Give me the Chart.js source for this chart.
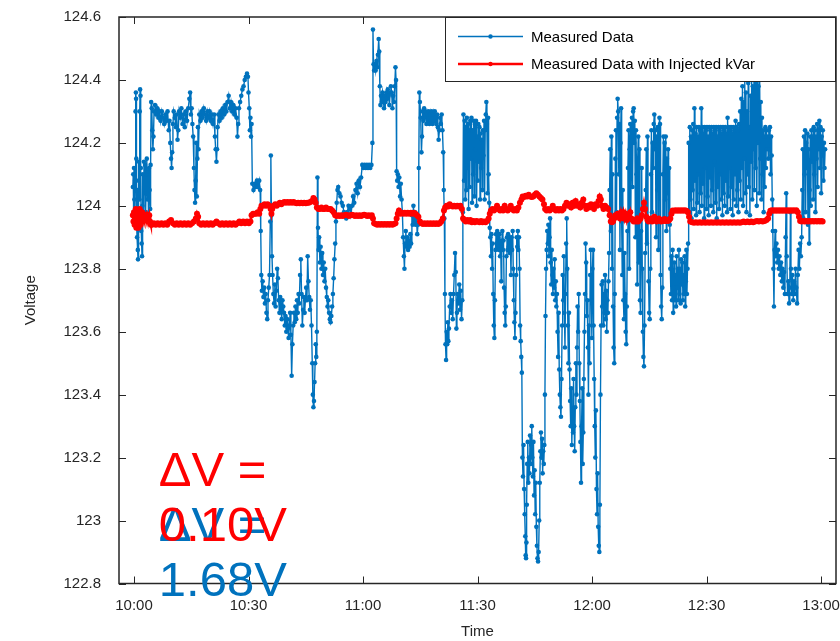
<!DOCTYPE html>
<html>
<head>
<meta charset="utf-8">
<title>Voltage</title>
<script src="https://cdn.jsdelivr.net/npm/chart.js@4.4.1/dist/chart.umd.min.js"></script>
<style>
  html, body { margin: 0; padding: 0; background: #fff; }
  #wrap { width: 840px; height: 641px; }
</style>
</head>
<body>
<div id="wrap"><canvas id="voltage-chart" width="840" height="641"></canvas></div>
<script>
// time axis is in minutes after 10:00
const tickMinutes = [0, 30, 60, 90, 120, 150, 180];
const tickLabels = ['10:00', '10:30', '11:00', '11:30', '12:00', '12:30', '13:00'];
const voltTicks = [122.8, 123, 123.2, 123.4, 123.6, 123.8, 124, 124.2, 124.4, 124.6];

const seriesLabels = ['Measured Data', 'Measured Data with Injected kVar'];
const seriesColors = ['#0072BD', '#FF0000'];

// [minute, volts]
const measuredData = [
  [-0.3,124.06],[-0.2,124.10],[-0.1,123.98],[0.0,124.12],[0.1,124.02],[0.2,123.95],[0.3,124.08],[0.4,124.30],[0.5,124.36],[0.55,124.34],
  [0.6,124.15],[0.7,123.96],[0.8,123.90],[0.9,124.05],[1.0,123.86],[1.05,123.83],[1.1,123.95],[1.2,124.08],[1.3,124.14],[1.4,124.02],
  [1.5,124.30],[1.6,124.37],[1.7,124.35],[1.8,124.12],[1.9,123.92],[2.0,123.88],[2.1,123.84],[2.2,124.00],[2.3,124.10],[2.45,123.97],
  [2.6,124.14],[2.75,124.04],[2.9,124.13],[3.05,123.98],[3.2,124.10],[3.35,124.15],[3.5,124.02],[3.65,124.11],[3.8,123.96],[3.95,124.12],
  [4.1,124.05],[4.25,123.99],[4.35,124.13],
  [4.5,124.33],[4.65,124.31],[4.8,124.24],[4.95,124.18],[5.1,124.22],[5.25,124.30],[5.5,124.32],[5.8,124.29],[6.1,124.31],[6.4,124.28],
  [6.7,124.30],[7.0,124.27],[7.3,124.30],[7.6,124.28],[7.9,124.26],[8.2,124.29],[8.5,124.27],[8.8,124.30],[9.1,124.24],[9.3,124.27],
  [9.5,124.20],[9.7,124.15],[9.85,124.12],[10.0,124.17],[10.2,124.26],[10.4,124.30],[10.7,124.28],[11.0,124.25],[11.2,124.29],[11.4,124.21],
  [11.6,124.24],[11.8,124.30],[12.1,124.28],[12.4,124.31],[12.7,124.26],[13.0,124.29],[13.3,124.25],[13.6,124.30],[13.9,124.27],[14.2,124.31],
  [14.5,124.34],[14.7,124.36],[14.9,124.29],[15.1,124.31],[15.3,124.26],[15.5,124.22],[15.7,124.12],[15.85,124.05],[16.0,124.01],[16.15,124.08],
  [16.3,124.20],[16.45,124.03],[16.6,124.15],[16.75,124.25],[16.9,124.18],[17.1,124.29],[17.4,124.27],[17.7,124.30],[18.0,124.28],[18.3,124.31],
  [18.6,124.29],[18.9,124.27],[19.2,124.30],[19.5,124.28],[19.8,124.30],[20.1,124.27],[20.4,124.29],[20.7,124.26],[21.0,124.29],[21.2,124.22],
  [21.4,124.18],[21.6,124.14],[21.75,124.18],[21.9,124.25],[22.1,124.29],[22.4,124.27],[22.7,124.30],[23.0,124.28],[23.3,124.31],[23.6,124.29],
  [23.9,124.32],[24.2,124.30],[24.5,124.33],[24.8,124.35],[25.1,124.31],[25.4,124.33],[25.7,124.30],[26.0,124.32],[26.3,124.29],[26.6,124.31],
  [26.9,124.28],[27.1,124.22],[27.3,124.26],[27.5,124.31],[27.8,124.33],[28.1,124.35],[28.4,124.37],[28.7,124.38],[29.0,124.40],[29.3,124.41],
  [29.6,124.42],[29.85,124.41],[30.0,124.36],[30.2,124.31],[30.35,124.24],[30.5,124.28],[30.65,124.22],[30.8,124.26],
  [31.0,124.07],[31.3,124.05],[31.6,124.07],[31.9,124.06],[32.2,124.08],[32.5,124.06],[32.8,124.08],[33.05,124.05],
  [33.2,123.92],[33.35,123.78],[33.5,123.73],[33.7,123.76],[33.9,123.71],[34.1,123.74],[34.3,123.69],[34.5,123.72],[34.7,123.66],[34.9,123.64],
  [35.1,123.70],[35.3,123.74],[35.5,123.78],[35.7,123.95],[35.85,124.16],[36.0,123.97],[36.15,123.84],[36.3,123.78],[36.5,123.72],[36.7,123.69],
  [36.9,123.75],[37.1,123.68],[37.3,123.73],[37.5,123.80],[37.7,123.77],[37.9,123.70],[38.1,123.66],[38.3,123.71],[38.5,123.67],[38.7,123.64],
  [38.9,123.70],[39.1,123.68],[39.3,123.66],[39.5,123.62],[39.7,123.65],[39.9,123.60],[40.1,123.64],[40.3,123.61],[40.5,123.58],[40.7,123.62],
  [40.9,123.66],[41.1,123.59],[41.3,123.46],[41.5,123.56],[41.7,123.62],[41.9,123.66],[42.1,123.63],[42.3,123.68],[42.5,123.64],[42.7,123.70],
  [42.9,123.66],[43.1,123.72],[43.3,123.69],[43.5,123.78],[43.7,123.83],[43.9,123.72],[44.1,123.62],[44.3,123.67],[44.5,123.71],[44.7,123.66],
  [44.9,123.70],[45.1,123.74],[45.3,123.70],[45.5,123.84],[45.7,123.76],[45.9,123.71],[46.1,123.67],[46.3,123.70],[46.5,123.62],[46.7,123.50],
  [46.85,123.40],[47.0,123.36],[47.15,123.38],[47.3,123.44],[47.45,123.50],[47.6,123.56],[47.75,123.52],[47.9,123.60],[48.05,124.09],[48.2,123.93],
  [48.35,123.86],[48.5,123.90],[48.7,123.82],[48.9,123.87],[49.1,123.80],[49.3,123.85],[49.5,123.78],[49.7,123.82],[49.9,123.76],[50.1,123.80],
  [50.3,123.74],[50.5,123.71],[50.7,123.68],[50.9,123.70],[51.1,123.66],[51.3,123.64],[51.5,123.63],[51.7,123.65],[51.9,123.68],[52.1,123.72],
  [52.3,123.77],[52.5,123.83],[52.7,123.88],[52.9,123.95],[53.1,124.01],[53.3,124.05],[53.5,124.06],[53.8,124.04],[54.1,124.03],[54.4,124.01],
  [54.7,124.00],[55.0,123.98],[55.3,123.97],[55.6,123.96],[55.9,123.98],[56.2,124.00],[56.5,123.99],[56.8,123.97],
  [57.1,124.00],[57.4,124.03],[57.7,124.01],[58.0,124.05],[58.3,124.07],[58.6,124.04],[58.9,124.08],[59.2,124.06],[59.5,124.09],[59.8,124.13],
  [60.1,124.12],[60.4,124.13],[60.7,124.12],[61.0,124.13],[61.3,124.12],[61.6,124.13],[61.9,124.12],[62.2,124.13],[62.45,124.20],[62.6,124.56],
  [62.75,124.45],[62.9,124.43],[63.1,124.45],[63.3,124.43],[63.5,124.46],[63.7,124.44],[63.9,124.48],[64.1,124.53],[64.25,124.49],[64.4,124.38],
  [64.55,124.32],[64.7,124.35],[64.9,124.33],[65.1,124.36],[65.3,124.34],[65.5,124.31],[65.7,124.35],[65.9,124.33],[66.1,124.36],[66.3,124.34],
  [66.5,124.37],[66.7,124.35],[66.9,124.32],[67.1,124.36],[67.3,124.38],[67.5,124.36],[67.7,124.31],[67.9,124.35],[68.1,124.33],[68.3,124.38],
  [68.5,124.44],[68.65,124.40],[68.8,124.11],[68.95,124.08],[69.1,124.10],[69.3,124.06],[69.5,124.09],[69.7,124.03],[69.9,124.07],[70.1,124.02],
  [70.3,123.98],[70.5,123.90],[70.7,123.84],[70.85,123.80],[71.0,123.88],[71.2,123.92],[71.4,123.87],[71.6,123.90],[71.8,123.86],[72.0,123.89],
  [72.2,123.87],[72.4,123.91],[72.6,123.88],[72.8,123.97],[73.0,123.94],[73.2,124.00],[73.4,123.95],[73.6,123.98],[73.8,123.94],[74.0,123.96],
  [74.2,123.91],[74.4,123.94],[74.6,124.12],[74.75,124.36],[74.9,124.33],[75.1,124.28],[75.3,124.17],[75.45,124.22],[75.6,124.30],[75.8,124.27],
  [76.0,124.31],[76.2,124.28],[76.4,124.30],[76.6,124.26],[76.8,124.29],[77.0,124.27],[77.2,124.30],[77.4,124.26],[77.6,124.29],[77.8,124.27],
  [78.0,124.30],[78.2,124.26],[78.4,124.29],[78.6,124.27],[78.8,124.30],[79.0,124.28],[79.2,124.26],[79.4,124.29],[79.6,124.25],[79.8,124.21],
  [80.0,124.24],[80.2,124.28],[80.4,124.26],[80.6,124.29],[80.8,124.24],[81.0,124.17],[81.15,124.05],[81.3,123.96],[81.45,123.72],[81.6,123.56],
  [81.75,123.51],[81.9,123.60],[82.05,123.56],[82.2,123.63],[82.35,123.57],[82.5,123.61],[82.7,123.68],[82.9,123.72],[83.1,123.66],[83.3,123.70],
  [83.5,123.64],[83.7,123.72],[83.9,123.78],[84.1,123.85],[84.3,123.79],[84.45,123.61],[84.6,123.66],[84.8,123.72],[85.0,123.69],[85.2,123.75],
  [85.4,123.67],[85.6,123.73],[85.8,123.64],[86.0,123.70],[86.15,123.98],[86.3,124.29],
  [86.45,124.08],[86.6,124.27],[86.75,124.02],[86.9,124.25],[87.05,124.05],[87.2,124.28],[87.35,124.12],[87.5,124.26],[87.65,123.99],[87.8,124.24],
  [87.95,124.06],[88.1,124.27],[88.25,124.15],[88.4,124.28],[88.55,124.01],[88.7,124.24],[88.85,124.10],[89.0,124.27],[89.15,124.03],[89.3,124.26],
  [89.45,124.18],[89.6,124.27],[89.75,124.00],[89.9,124.22],[90.05,124.08],[90.2,124.26],[90.35,124.14],[90.5,124.25],[90.65,124.02],[90.8,124.23],
  [90.95,124.12],[91.1,124.21],[91.25,124.05],[91.4,124.24],[91.55,124.16],[91.7,124.27],[91.85,124.02],[92.0,124.24],[92.15,124.29],[92.3,124.33],
  [92.45,124.26],[92.6,124.04],[92.75,124.28],[92.9,124.10],[93.05,124.01],[93.2,123.93],
  [93.35,123.90],[93.5,123.84],[93.65,123.91],[93.8,123.80],[93.95,123.88],[94.1,123.72],[94.25,123.62],[94.4,123.58],[94.55,123.70],[94.7,123.86],
  [94.85,123.91],[95.0,123.88],[95.15,123.92],[95.3,123.87],[95.45,123.90],[95.6,123.86],[95.75,123.91],[95.9,123.84],[96.05,123.89],[96.2,123.76],
  [96.35,123.88],[96.5,123.92],[96.65,123.86],[96.8,123.89],[96.95,123.74],[97.1,123.66],[97.25,123.62],[97.4,123.68],[97.55,123.84],[97.7,123.90],
  [97.85,123.86],[98.0,123.91],[98.15,123.87],[98.3,123.90],[98.45,123.85],[98.6,123.89],[98.75,123.78],[98.9,123.90],[99.05,123.86],[99.2,123.92],
  [99.35,123.80],[99.5,123.70],[99.65,123.63],[99.8,123.58],[99.95,123.66],[100.1,123.78],[100.25,123.90],[100.4,123.87],[100.55,123.92],[100.7,123.86],
  [100.85,123.90],[101.0,123.80],[101.15,123.62],[101.3,123.57],[101.45,123.52],[101.6,123.47],
  [101.75,123.20],[101.9,123.14],[102.05,123.24],[102.2,123.10],[102.35,123.02],[102.5,122.95],[102.6,122.89],[102.7,122.88],[102.8,122.93],[102.9,123.05],
  [103.0,123.18],[103.15,123.25],[103.3,123.12],[103.45,123.20],[103.6,123.15],[103.75,123.27],[103.9,123.18],[104.05,123.24],[104.2,123.30],[104.35,123.20],
  [104.5,123.14],[104.65,123.25],[104.8,123.08],[104.95,123.16],[105.1,123.02],[105.25,123.12],[105.4,122.98],[105.55,122.92],[105.7,122.88],[105.85,122.87],
  [106.0,122.90],[106.15,123.00],[106.3,123.12],[106.45,123.22],[106.6,123.28],[106.75,123.20],[106.9,123.26],[107.05,123.15],[107.2,123.22],[107.35,123.18],
  [107.5,123.24],[107.65,123.40],[107.8,123.65],[107.95,123.80],[108.1,123.86],[108.25,123.92],
  [108.4,123.88],[108.55,123.94],[108.7,123.84],[108.85,123.90],[109.0,123.96],[109.15,123.82],[109.3,123.75],[109.45,123.86],[109.6,123.78],[109.75,123.72],
  [109.9,123.80],[110.05,123.74],[110.2,123.83],[110.35,123.70],[110.5,123.76],[110.65,123.68],[110.8,123.72],[110.95,123.60],[111.1,123.52],[111.25,123.66],
  [111.4,123.48],[111.55,123.40],[111.7,123.36],[111.85,123.33],[112.0,123.45],[112.15,123.62],[112.3,123.78],[112.45,123.70],[112.6,123.84],[112.75,123.66],
  [112.9,123.55],[113.05,123.72],[113.2,123.88],[113.35,123.96],[113.5,123.80],[113.65,123.62],[113.8,123.50],[113.95,123.66],[114.1,123.48],[114.25,123.38],
  [114.4,123.30],[114.55,123.42],[114.7,123.24],[114.85,123.35],[115.0,123.28],[115.15,123.45],[115.3,123.30],[115.45,123.22],[115.6,123.36],[115.75,123.50],
  [115.9,123.40],[116.05,123.55],[116.2,123.68],[116.35,123.60],[116.5,123.72],[116.65,123.50],[116.8,123.38],[116.95,123.25],[117.1,123.12],[117.25,123.30],
  [117.4,123.42],[117.55,123.18],[117.7,123.28],[117.85,123.45],[118.0,123.60],[118.15,123.72],[118.3,123.88],[118.45,123.82],[118.6,123.65],[118.75,123.70],
  [118.9,123.55],[119.05,123.40],[119.2,123.62],[119.35,123.50],[119.5,123.78],[119.65,123.86],
  [119.8,123.70],[119.95,123.58],[120.1,123.80],[120.25,123.86],[120.4,123.62],[120.55,123.45],[120.7,123.30],[120.85,123.20],[121.0,123.35],[121.15,123.10],
  [121.3,123.02],[121.45,123.15],[121.6,122.98],[121.75,122.92],[121.9,122.90],[122.05,123.05],[122.2,123.40],[122.35,123.62],[122.5,123.75],
  [122.65,123.68],[122.8,123.76],[122.95,123.62],[123.1,123.72],[123.25,123.66],[123.4,123.78],[123.55,123.64],[123.7,123.73],[123.85,123.60],[124.0,123.70],
  [124.15,123.66],[124.3,123.76],[124.45,123.85],
  [124.6,124.05],[124.75,124.18],[124.9,123.92],[125.05,124.22],[125.2,123.80],[125.35,124.10],[125.5,123.68],[125.65,123.55],[125.8,123.50],[125.95,123.72],
  [126.1,124.15],[126.25,124.24],[126.4,123.98],[126.55,124.28],[126.7,124.34],[126.85,124.30],[127.0,124.10],[127.15,124.26],[127.3,123.86],[127.45,124.20],
  [127.6,124.31],[127.75,123.95],[127.9,123.78],[128.05,124.05],[128.2,123.70],[128.35,123.64],[128.5,123.85],[128.65,123.72],[128.8,123.60],[128.95,123.56],
  [129.1,123.68],[129.25,123.92],
  [129.4,124.12],[129.55,124.24],[129.7,123.80],[129.85,124.18],[130.0,124.26],[130.15,123.98],[130.3,124.22],[130.45,124.28],[130.6,124.06],[130.75,124.30],
  [130.9,124.31],[131.05,124.20],[131.2,124.27],[131.35,123.90],[131.5,124.24],[131.65,124.10],[131.8,123.75],[131.95,124.15],[132.1,124.22],[132.25,123.82],
  [132.4,124.18],[132.55,123.70],[132.7,123.66],[132.85,123.92],[133.0,124.12],[133.15,123.80],[133.3,123.60],[133.45,123.52],[133.6,123.49],[133.75,123.62],
  [133.9,123.85],
  [134.05,124.05],[134.2,124.18],[134.35,123.88],[134.5,124.22],[134.65,123.95],[134.8,123.76],[134.95,123.66],[135.1,123.64],[135.25,123.80],[135.4,124.10],
  [135.55,124.24],[135.7,123.98],[135.85,124.20],[136.0,124.12],[136.15,124.26],[136.3,124.29],[136.45,124.18],[136.6,124.24],[136.75,123.90],[136.9,124.22],
  [137.05,124.05],[137.2,124.25],[137.35,123.86],[137.5,124.20],[137.65,124.28],[137.8,124.26],[137.95,123.78],[138.1,123.68],[138.25,123.64],[138.4,123.74],
  [138.55,124.10],[138.7,124.22],[138.85,123.96],[139.0,124.20],[139.15,124.02],[139.3,124.22],[139.45,123.92],[139.6,124.15],[139.75,124.04],[139.9,124.18],
  [140.05,123.96],[140.2,124.12],[140.35,123.94],
  [140.5,123.80],[140.65,123.72],[140.8,123.84],[140.95,123.70],[141.1,123.86],[141.25,123.66],[141.4,123.74],[141.55,123.82],[141.7,123.70],[141.85,123.78],
  [142.0,123.68],[142.15,123.84],[142.3,123.74],[142.45,123.80],[142.6,123.70],[142.75,123.86],[142.9,123.72],[143.05,123.80],[143.2,123.69],[143.35,123.83],
  [143.5,123.75],[143.65,123.82],[143.8,123.70],[143.95,123.78],[144.1,123.72],[144.25,123.84],[144.4,123.68],[144.55,123.76],[144.7,123.86],[144.85,123.72],
  [145.0,123.80],[145.15,123.88],
  [145.3,124.20],[145.45,123.98],[145.6,124.25],[145.75,124.02],[145.9,124.22],[146.05,123.96],[146.2,124.24],[146.35,124.05],[146.5,124.26],[146.65,123.99],
  [146.8,124.31],[146.95,124.08],[147.1,124.23],[147.25,123.97],[147.4,124.25],[147.55,124.01],[147.7,124.22],[147.85,124.10],[148.0,124.25],[148.15,123.98],
  [148.3,124.24],[148.45,124.04],[148.6,124.31],[148.75,124.00],[148.9,124.25],[149.05,124.07],[149.2,124.23],[149.35,123.96],[149.5,124.25],[149.65,124.12],
  [149.8,124.24],[149.95,123.99],[150.1,124.25],[150.25,124.03],[150.4,124.22],[150.55,123.97],[150.7,124.25],[150.85,124.09],[151.0,124.24],[151.15,124.00],
  [151.3,124.25],[151.45,124.05],[151.6,124.23],[151.75,123.98],[151.9,124.25],[152.05,124.14],[152.2,124.24],[152.35,124.01],[152.5,124.25],[152.65,123.96],
  [152.8,124.22],[152.95,124.06],[153.1,124.25],[153.25,123.99],[153.4,124.24],[153.55,124.10],[153.7,124.25],[153.85,124.02],[154.0,124.23],[154.15,123.97],
  [154.3,124.25],[154.45,124.04],[154.6,124.24],[154.75,124.00],[154.9,124.25],[155.05,124.08],[155.2,124.23],[155.35,123.98],[155.5,124.28],[155.65,124.03],
  [155.8,124.25],[155.95,124.12],[156.1,124.24],[156.25,123.99],[156.4,124.25],[156.55,124.06],[156.7,124.23],[156.85,123.97],[157.0,124.25],[157.15,124.02],
  [157.3,124.24],[157.45,124.10],[157.6,124.27],[157.75,124.00],[157.9,124.25],[158.05,124.05],[158.2,124.24],[158.35,123.98],[158.5,124.26],[158.65,124.08],
  [158.8,124.30],[158.95,124.02],[159.1,124.34],[159.25,124.12],[159.4,124.38],[159.55,124.00],[159.7,124.33],[159.85,124.15],[160.0,124.40],[160.15,124.04],
  [160.3,124.36],[160.45,123.98],[160.6,124.30],[160.75,124.10],[160.9,124.39],[161.05,124.06],[161.2,124.25],[161.35,123.97],[161.5,124.35],[161.65,124.14],
  [161.8,124.42],[161.95,124.02],[162.1,124.38],[162.25,124.18],[162.4,124.41],[162.55,124.05],[162.7,124.43],[162.85,124.12],[163.0,124.39],[163.15,124.00],
  [163.3,124.42],[163.45,124.20],[163.6,124.38],[163.75,124.04],[163.9,124.40],[164.05,124.15],[164.2,124.33],[164.35,124.02],[164.5,124.28],[164.65,124.10],
  [164.8,124.24],[164.95,123.98],[165.1,124.22],[165.25,124.06],[165.4,124.25],[165.55,124.12],[165.7,124.24],[165.85,124.18],
  [166.0,124.22],[166.15,124.15],[166.3,124.24],[166.45,124.18],[166.6,124.25],[166.75,124.10],[166.9,124.22],[167.05,124.16],[167.2,124.02],[167.35,123.92],
  [167.5,123.80],[167.65,123.68],[167.8,123.86],[167.95,123.92],[168.1,123.84],[168.3,123.88],[168.5,123.82],[168.7,123.86],[168.9,123.80],[169.1,123.84],
  [169.3,123.78],[169.5,123.82],[169.7,123.76],[169.9,123.80],[170.1,123.74],[170.3,123.79],[170.5,123.72],[170.7,123.90],[170.85,124.04],[171.0,123.84],
  [171.2,123.72],[171.4,123.76],[171.6,123.69],[171.8,123.74],[171.95,123.98],[172.1,123.80],[172.3,123.72],[172.5,123.78],[172.7,123.70],[172.9,123.76],
  [173.1,123.72],[173.3,123.80],[173.5,123.74],[173.7,123.69],[173.9,123.78],[174.1,123.86],[174.3,123.80],[174.5,123.88],[174.7,123.84],[174.9,123.90],
  [175.05,124.05],[175.2,124.18],[175.35,123.96],[175.5,124.22],[175.65,124.10],[175.8,124.24],[175.95,123.98],[176.1,124.20],[176.25,124.12],[176.4,124.23],
  [176.55,123.94],[176.7,124.18],[176.85,123.88],[177.0,124.05],[177.15,124.22],[177.3,124.00],[177.45,124.24],[177.6,124.14],[177.75,124.22],[177.9,124.02],
  [178.05,124.25],[178.2,124.10],[178.35,124.24],[178.5,123.98],[178.65,124.22],[178.8,124.15],[178.95,124.26],[179.1,124.06],[179.25,124.24],[179.4,124.18],
  [179.55,124.27],[179.7,124.12],[179.85,124.25],[180.0,124.04],[180.15,124.22],[180.3,124.16],[180.45,124.24],[180.6,124.08],[180.75,124.20],[180.9,124.12],
  [181.05,124.18]
];

// [minute, volts]
const injectedData = [
  [-0.3,123.97],[-0.15,123.95],[0,123.98],[0.15,123.94],[0.3,123.96],[0.45,123.99],[0.6,123.93],[0.75,123.97],[0.9,123.95],[1.05,123.98],
  [1.2,123.93],[1.35,123.96],[1.5,123.99],[1.65,123.94],[1.8,123.97],[1.95,123.95],[2.1,123.98],[2.25,123.96],[2.4,123.97],[2.6,123.96],
  [2.8,123.97],[3.0,123.96],[3.2,123.97],[3.4,123.96],[3.6,123.97],[3.8,123.96],[4.0,123.97],[4.2,123.95],[4.4,123.94],
  [4.7,123.94],[5.2,123.945],[5.7,123.94],[6.2,123.945],[6.7,123.94],[7.2,123.945],[7.7,123.94],[8.2,123.945],[8.7,123.94],[9.2,123.95],
  [9.7,123.955],[10.2,123.945],[10.7,123.94],[11.2,123.945],[11.7,123.94],[12.2,123.945],[12.7,123.94],[13.2,123.945],[13.7,123.94],[14.2,123.945],
  [14.7,123.94],[15.2,123.945],[15.7,123.95],[16.2,123.96],[16.5,123.975],[16.8,123.965],[17.1,123.945],[17.6,123.94],[18.1,123.945],[18.6,123.94],
  [19.1,123.945],[19.6,123.94],[20.1,123.945],[20.6,123.94],[21.1,123.945],[21.6,123.95],[22.1,123.945],[22.6,123.94],[23.1,123.945],[23.6,123.94],
  [24.1,123.945],[24.6,123.94],[25.1,123.945],[25.6,123.94],[26.1,123.945],[26.6,123.94],[27.1,123.945],[27.6,123.95],[28.1,123.945],[28.6,123.95],
  [29.1,123.945],[29.6,123.95],[30.1,123.945],[30.5,123.95],
  [30.8,123.97],[31.2,123.975],[31.6,123.975],[32.0,123.975],[32.4,123.98],[32.8,123.975],
  [33.1,123.99],[33.4,124.0],[33.8,124.0],[34.2,124.005],[34.6,124.0],[35.0,124.005],[35.4,124.0],[35.8,123.99],[36.0,123.975],[36.2,123.99],
  [36.6,124.0],[37.0,124.005],[37.4,124.0],[37.8,124.005],[38.2,124.01],[38.6,124.005],[39.0,124.01],[39.4,124.012],[39.8,124.01],[40.2,124.012],
  [40.6,124.01],[41.0,124.012],[41.4,124.01],[41.8,124.012],[42.2,124.01],[42.6,124.008],[43.0,124.01],[43.4,124.008],[43.8,124.01],[44.2,124.008],
  [44.6,124.01],[45.0,124.008],[45.4,124.01],[45.8,124.01],[46.2,124.012],[46.6,124.015],[47.0,124.025],[47.3,124.02],[47.6,124.01],[47.9,123.995],
  [48.3,123.99],[48.7,123.99],[49.1,123.995],[49.5,123.99],[49.9,123.99],[50.3,123.995],[50.7,123.99],[51.1,123.99],[51.5,123.99],[51.9,123.985],
  [52.3,123.98],[52.7,123.97],
  [53.1,123.968],[53.5,123.97],[53.9,123.968],[54.3,123.97],[54.7,123.968],[55.1,123.97],[55.5,123.972],[55.9,123.97],[56.3,123.968],[56.7,123.97],
  [57.1,123.972],[57.5,123.97],[57.9,123.968],[58.3,123.97],[58.7,123.968],[59.1,123.97],[59.5,123.968],[59.9,123.97],[60.3,123.972],[60.7,123.97],
  [61.1,123.968],[61.5,123.97],[61.9,123.968],[62.3,123.97],[62.6,123.96],
  [62.9,123.945],[63.3,123.942],[63.7,123.94],[64.1,123.942],[64.5,123.94],[64.9,123.942],[65.3,123.94],[65.7,123.942],[66.1,123.94],[66.5,123.942],
  [66.9,123.94],[67.3,123.942],[67.7,123.94],[68.1,123.942],[68.5,123.945],
  [68.8,123.96],[69.1,123.975],[69.4,123.985],[69.7,123.975],[70.1,123.978],[70.5,123.975],[70.9,123.978],[71.3,123.975],[71.7,123.978],[72.1,123.975],
  [72.5,123.978],[72.9,123.975],[73.3,123.978],[73.7,123.975],[74.1,123.97],[74.5,123.965],
  [74.9,123.95],[75.3,123.945],[75.7,123.942],[76.1,123.945],[76.5,123.942],[76.9,123.945],[77.3,123.942],[77.7,123.945],[78.1,123.942],[78.5,123.945],
  [78.9,123.942],[79.3,123.945],[79.7,123.942],[80.1,123.945],[80.5,123.95],[80.9,123.96],
  [81.2,123.985],[81.5,123.995],[81.9,124.0],[82.3,123.998],[82.7,124.005],[83.1,124.0],[83.5,123.998],[83.9,124.0],[84.3,123.998],[84.7,124.0],
  [85.1,123.998],[85.5,124.0],[85.9,123.99],
  [86.2,123.96],[86.5,123.955],[86.9,123.95],[87.3,123.955],[87.7,123.95],[88.1,123.955],[88.5,123.948],[88.9,123.952],[89.3,123.948],[89.7,123.952],
  [90.1,123.95],[90.5,123.948],[90.9,123.952],[91.3,123.948],[91.7,123.95],[92.1,123.948],[92.5,123.952],[92.9,123.96],
  [93.2,123.975],[93.5,123.985],[93.9,123.99],[94.3,123.985],[94.7,123.99],[95.1,124.0],[95.5,123.99],[95.9,123.985],[96.3,123.99],[96.7,123.985],
  [97.1,124.0],[97.5,123.99],[97.9,123.985],[98.3,123.99],[98.7,124.0],[99.1,123.99],[99.5,123.985],[99.9,123.99],[100.3,123.985],[100.7,123.995],
  [101.1,124.01],
  [101.5,124.02],[101.8,124.03],[102.2,124.028],[102.6,124.032],[103.0,124.03],[103.4,124.035],[103.8,124.03],[104.2,124.028],[104.6,124.03],[105.0,124.035],
  [105.4,124.04],[105.8,124.035],[106.2,124.03],[106.6,124.025],[107.0,124.02],[107.4,124.005],
  [107.7,123.99],[108.1,123.985],[108.5,123.99],[108.9,123.985],[109.3,123.99],[109.7,124.0],[110.1,123.99],[110.5,123.985],[110.9,123.99],[111.3,123.985],
  [111.7,123.99],[112.1,123.985],
  [112.5,123.99],[112.9,124.0],[113.3,124.01],[113.7,124.0],[114.1,124.005],[114.5,123.995],[114.9,124.01],[115.3,124.0],[115.7,124.015],[116.1,124.0],
  [116.5,124.005],[116.9,123.995],[117.3,124.01],[117.7,124.02],[118.1,124.0],[118.5,123.99],[118.9,124.0],[119.3,123.995],
  [119.7,124.005],[120.1,124.0],[120.5,123.99],[120.9,124.005],[121.3,124.0],[121.7,124.015],[122.0,124.03],[122.3,124.02],[122.6,124.0],[123.0,123.99],
  [123.4,124.0],[123.8,123.995],[124.2,123.99],
  [124.6,123.97],[124.9,123.95],[125.2,123.948],[125.5,123.95],[125.8,123.96],[126.1,123.97],[126.4,123.965],[126.7,123.975],
  [127.0,123.97],[127.3,123.96],[127.6,123.98],[127.9,123.965],[128.2,123.98],[128.5,123.96],[128.8,123.975],[129.1,123.955],[129.4,123.97],[129.7,123.965],
  [130.0,123.98],[130.3,123.96],
  [130.6,123.955],[130.9,123.95],[131.2,123.955],[131.5,123.95],[131.8,123.96],[132.1,123.95],[132.4,123.955],[132.7,123.96],[133.0,123.97],[133.3,123.99],
  [133.6,124.01],[133.9,123.99],[134.2,123.965],[134.5,123.955],[134.8,123.95],
  [135.1,123.955],[135.4,123.96],[135.7,123.95],[136.0,123.955],[136.3,123.965],[136.6,123.955],[136.9,123.95],[137.2,123.955],[137.5,123.96],[137.8,123.955],
  [138.1,123.95],[138.4,123.955],[138.7,123.952],[139.0,123.958],[139.3,123.952],[139.6,123.955],[139.9,123.952],[140.2,123.955],[140.5,123.96],
  [140.8,123.975],[141.1,123.985],[141.5,123.984],[141.9,123.986],[142.3,123.984],[142.7,123.986],[143.1,123.984],[143.5,123.986],[143.9,123.984],[144.3,123.986],
  [144.7,123.984],[145.1,123.98],[145.4,123.965],
  [145.7,123.95],[146.2,123.948],[146.7,123.946],[147.2,123.948],[147.7,123.946],[148.2,123.948],[148.7,123.946],[149.2,123.948],[149.7,123.946],[150.2,123.948],
  [150.7,123.946],[151.2,123.948],[151.7,123.946],[152.2,123.948],[152.7,123.946],[153.2,123.948],[153.7,123.946],[154.2,123.948],[154.7,123.946],[155.2,123.948],
  [155.7,123.946],[156.2,123.948],[156.7,123.946],[157.2,123.948],[157.7,123.946],[158.2,123.948],[158.7,123.946],[159.2,123.948],[159.7,123.95],[160.2,123.948],
  [160.7,123.95],[161.2,123.948],[161.7,123.95],[162.2,123.948],[162.7,123.95],[163.2,123.952],[163.7,123.95],[164.2,123.952],[164.7,123.95],[165.2,123.952],
  [165.7,123.955],[166.1,123.96],
  [166.4,123.975],[166.7,123.984],[167.1,123.986],[167.5,123.984],[167.9,123.986],[168.3,123.984],[168.7,123.986],[169.1,123.984],[169.5,123.986],[169.9,123.984],
  [170.3,123.986],[170.7,123.984],[171.1,123.986],[171.5,123.984],[171.9,123.986],[172.3,123.984],[172.7,123.986],[173.1,123.984],[173.5,123.986],[173.9,123.98],
  [174.2,123.965],[174.5,123.952],[174.9,123.95],[175.3,123.952],[175.7,123.95],[176.1,123.952],[176.5,123.95],[176.9,123.952],[177.3,123.95],[177.7,123.952],
  [178.1,123.95],[178.5,123.952],[178.9,123.95],[179.3,123.952],[179.7,123.95],[180.1,123.952],[180.4,123.95]
];

// spread of each series, written on the plot
const deltaNotes = [
  { lines: ['\u0394V =', '1.68V'], color: seriesColors[0], row: 1 },
  { lines: ['\u0394V =', '0.10V'], color: seriesColors[1], row: 0 }
];

const FONT = "'Liberation Sans', Arial, Helvetica, sans-serif";
const AXIS_COLOR = '#262626';

const toPoints = pairs => pairs.map(([m, v]) => ({ x: m, y: v }));

// box around the plot with inward tick marks on all four sides
const axesBox = {
  id: 'axesBox',
  afterDatasetsDraw(chart) {
    const { ctx, chartArea: a, scales: { x, y } } = chart;
    const len = 7;
    ctx.save();
    ctx.strokeStyle = AXIS_COLOR;
    ctx.lineWidth = 1;
    ctx.beginPath();
    tickMinutes.forEach(m => {
      const px = Math.round(x.getPixelForValue(m)) + 0.5;
      ctx.moveTo(px, a.bottom); ctx.lineTo(px, a.bottom - len);
      ctx.moveTo(px, a.top); ctx.lineTo(px, a.top + len);
    });
    voltTicks.forEach(v => {
      const py = Math.round(y.getPixelForValue(v)) + 0.5;
      ctx.moveTo(a.left, py); ctx.lineTo(a.left + len, py);
      ctx.moveTo(a.right, py); ctx.lineTo(a.right - len, py);
    });
    ctx.stroke();
    ctx.lineWidth = 1.5;
    ctx.strokeRect(a.left, a.top, a.right - a.left, a.bottom - a.top);
    ctx.restore();
  }
};

// legend box in the top right corner of the plot
const boxLegend = {
  id: 'boxLegend',
  afterDraw(chart) {
    const { ctx, chartArea: a } = chart;
    const w = 391, h = 65;
    const left = a.right - w, top = a.top;
    ctx.save();
    ctx.fillStyle = '#fff';
    ctx.fillRect(left, top, w, h);
    ctx.strokeStyle = AXIS_COLOR;
    ctx.lineWidth = 1;
    ctx.strokeRect(left + 0.5, top + 0.5, w - 1, h - 1);
    ctx.font = '15px ' + FONT;
    ctx.textBaseline = 'middle';
    chart.data.datasets.forEach((ds, i) => {
      const rowY = top + 19.5 + i * 27.5;
      ctx.strokeStyle = ds.borderColor;
      ctx.lineWidth = ds.borderWidth;
      ctx.beginPath();
      ctx.moveTo(left + 13, rowY);
      ctx.lineTo(left + 78, rowY);
      ctx.stroke();
      ctx.fillStyle = ds.borderColor;
      ctx.beginPath();
      ctx.arc(left + 45.5, rowY, 2.2, 0, Math.PI * 2);
      ctx.fill();
      ctx.fillStyle = '#000';
      ctx.fillText(ds.label, left + 86, rowY + 1);
    });
    ctx.restore();
  }
};

// big delta-V notes in the lower left
const spreadNotes = {
  id: 'spreadNotes',
  afterDraw(chart) {
    const { ctx, scales: { x, y } } = chart;
    const left = x.getPixelForValue(6.5);
    const firstBase = y.getPixelForValue(123.11);
    const step = 55;
    ctx.save();
    ctx.font = '49px ' + FONT;
    ctx.textBaseline = 'alphabetic';
    deltaNotes.forEach(note => {
      ctx.fillStyle = note.color;
      note.lines.forEach((line, k) => {
        ctx.fillText(line, left, firstBase + (note.row + k) * step);
      });
    });
    ctx.restore();
  }
};

new Chart(document.getElementById('voltage-chart'), {
  type: 'line',
  data: {
    datasets: [
      {
        label: seriesLabels[0],
        data: toPoints(measuredData),
        borderColor: seriesColors[0],
        backgroundColor: seriesColors[0],
        borderWidth: 1.4,
        pointRadius: 2.3,
        pointBorderWidth: 0,
        pointBackgroundColor: seriesColors[0],
        tension: 0,
        order: 2
      },
      {
        label: seriesLabels[1],
        data: toPoints(injectedData),
        borderColor: seriesColors[1],
        backgroundColor: seriesColors[1],
        borderWidth: 2.6,
        pointRadius: 3,
        pointBorderWidth: 0,
        pointBackgroundColor: seriesColors[1],
        tension: 0,
        order: 1
      }
    ]
  },
  options: {
    responsive: false,
    animation: false,
    devicePixelRatio: 1,
    layout: { padding: { top: 17, right: 4, bottom: 0, left: 0 } },
    plugins: {
      legend: { display: false },
      tooltip: { enabled: false }
    },
    scales: {
      x: {
        type: 'linear',
        min: -3.93,
        max: 183.9,
        afterBuildTicks: s => { s.ticks = tickMinutes.map(v => ({ value: v })); },
        afterFit: s => { s.height = 57.5; s.paddingLeft = 0; s.paddingRight = 0; },
        grid: { display: false, drawTicks: false },
        border: { display: false },
        ticks: {
          padding: 13,
          maxRotation: 0,
          color: AXIS_COLOR,
          font: { family: FONT, size: 15 },
          callback: v => tickLabels[tickMinutes.indexOf(v)]
        },
        title: {
          display: true,
          text: 'Time',
          color: AXIS_COLOR,
          font: { family: FONT, size: 15 },
          padding: { top: 0, bottom: 0 }
        }
      },
      y: {
        type: 'linear',
        min: 122.8,
        max: 124.6,
        afterBuildTicks: s => { s.ticks = voltTicks.map(v => ({ value: v })); },
        afterFit: s => { s.width = 119; s.paddingTop = 0; s.paddingBottom = 0; },
        grid: { display: false, drawTicks: false },
        border: { display: false },
        ticks: {
          padding: 18,
          color: AXIS_COLOR,
          font: { family: FONT, size: 15 },
          callback: v => String(parseFloat(Number(v).toFixed(1)))
        },
        title: {
          display: true,
          text: 'Voltage',
          color: AXIS_COLOR,
          font: { family: FONT, size: 15 },
          padding: { top: 22, bottom: 0 }
        }
      }
    }
  },
  plugins: [axesBox, boxLegend, spreadNotes]
});
</script>
</body>
</html>
